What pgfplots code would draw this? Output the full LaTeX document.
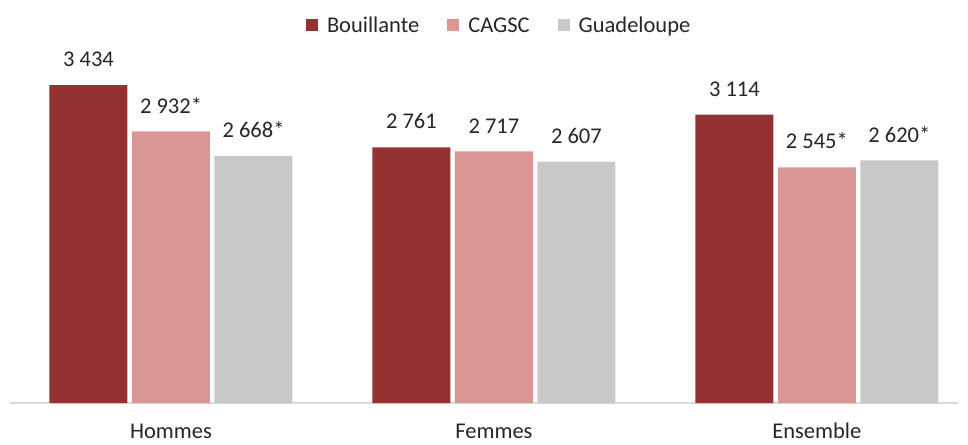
\documentclass[border=0pt]{standalone}
\usepackage{fontspec}
\setmainfont{Carlito}
\usepackage{pgfplots}
\pgfplotsset{compat=1.18}
\definecolor{cBou}{HTML}{943232}
\definecolor{cCag}{HTML}{DA9694}
\definecolor{cGua}{HTML}{C8C8C8}
\definecolor{txt}{HTML}{262626}
\newcommand{\fs}{\fontsize{22.5}{27}\selectfont}
\begin{document}
\begin{tikzpicture}
\path[use as bounding box] (0pt,0pt) rectangle (968pt,444pt);
\begin{axis}[
  at={(10pt,41pt)}, anchor=south west,
  scale only axis,
  width=948pt, height=370.4pt,
  ybar=4.5pt, bar width=78pt,
  xmin=-0.4985, xmax=2.437,
  ymin=0, ymax=4000,
  axis y line=none,
  axis x line*=bottom,
  x axis line style={draw=black!15, line width=1.2pt, -},
  xtick={0,1,2},
  xticklabels={Hommes,Femmes,Ensemble},
  major tick length=0pt,
  xticklabel style={font=\fs, text=txt, anchor=north, inner sep=0pt, text height=14.5pt, text depth=0pt, yshift=-21pt},
  point meta=explicit symbolic,
  nodes near coords,
  every node near coord/.append style={font=\fs, text=txt, inner sep=0pt, anchor=south, yshift=18pt},
  legend columns=3,
  legend style={draw=none, fill=none, at={(0.516,1.018)}, anchor=center, font=\fs, text=txt,
    /tikz/every odd column/.append style={column sep=7pt},
    /tikz/every even column/.append style={column sep=26pt}},
  legend image code/.code={\fill[#1] (0pt,-5pt) rectangle (12pt,7pt);},
]
\addplot[fill=cBou, draw=none] coordinates {(0,3434)[3 434] (1,2761)[2 761] (2,3114)[3 114]};
\addplot[fill=cCag, draw=none] coordinates {(0,2932)[2 932*] (1,2717)[2 717] (2,2545)[2 545*]};
\addplot[fill=cGua, draw=none] coordinates {(0,2668)[2 668*] (1,2607)[2 607] (2,2620)[2 620*]};
\legend{Bouillante,CAGSC,Guadeloupe}
\end{axis}
\end{tikzpicture}
\end{document}
